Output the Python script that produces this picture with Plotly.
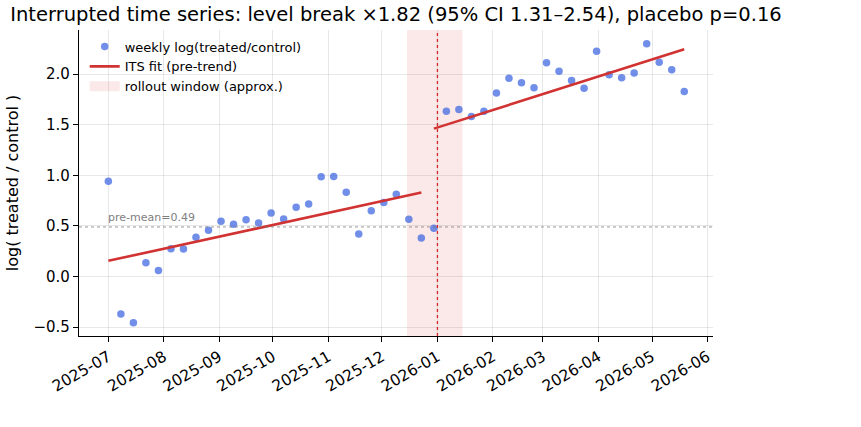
import pandas as pd
import plotly.graph_objects as go

# ---- data ----
start_date = "2025-07-01"
weekly_values = [
    0.943, -0.370, -0.456, 0.136, 0.060, 0.275, 0.272, 0.387, 0.457, 0.546,
    0.516, 0.562, 0.529, 0.629, 0.569, 0.685, 0.718, 0.986, 0.989, 0.834,
    0.420, 0.649, 0.731, 0.814, 0.566, 0.381, 0.476,
    1.634, 1.651, 1.581, 1.634, 1.813, 1.961, 1.915, 1.865, 2.113, 2.028,
    1.938, 1.862, 2.226, 1.994, 1.964, 2.011, 2.302, 2.117, 2.044, 1.829,
]
pre_fit_dates = ["2025-07-01", "2025-12-23"]
pre_fit_values = [0.155, 0.830]
post_fit_dates = ["2025-12-30", "2026-05-19"]
post_fit_values = [1.462, 2.246]
rollout_window = ["2025-12-15", "2026-01-15"]
break_date = "2026-01-01"
pre_mean = 0.49
x_range = ["2025-06-14 14:00", "2026-06-04 02:00"]
y_range = [-0.588, 2.437]
y_ticks = [-0.5, 0.0, 0.5, 1.0, 1.5, 2.0]
title_text = "Interrupted time series: level break ×1.82 (95% CI 1.31–2.54), placebo p=0.16"

dates = pd.date_range(start_date, periods=len(weekly_values), freq="7D")

FONT = "DejaVu Sans"
RED = "#d13232"
SPAN = "rgba(214,39,40,0.1)"

fig = go.Figure()
fig.add_trace(go.Scatter(
    x=dates, y=weekly_values, mode="markers", name="weekly log(treated/control)",
    marker=dict(size=7.5, color="rgba(65,105,225,0.75)", line=dict(width=0)),
    legendrank=1,
))
fig.add_trace(go.Scatter(
    x=pd.to_datetime(pre_fit_dates), y=pre_fit_values, mode="lines",
    name="ITS fit (pre-trend)", line=dict(color=RED, width=2.6), legendrank=2,
))
fig.add_trace(go.Scatter(
    x=pd.to_datetime(post_fit_dates), y=post_fit_values, mode="lines",
    name="ITS fit (post)", line=dict(color=RED, width=2.6), showlegend=False,
))
# legend entry for the rollout window (patch-like wide swatch)
fig.add_trace(go.Scatter(
    x=[None], y=[None], mode="lines", line=dict(color=SPAN, width=10),
    name="rollout window (approx.)", legendrank=3, hoverinfo="skip",
))

# rollout window
fig.add_shape(
    type="rect", xref="x", yref="paper", x0=rollout_window[0], x1=rollout_window[1],
    y0=0, y1=1, fillcolor=SPAN, line=dict(width=0), layer="below",
)
# break line
fig.add_shape(
    type="line", xref="x", yref="paper", x0=break_date, x1=break_date, y0=0, y1=1,
    line=dict(color="#d62728", width=1.3, dash="dot"),
)
# pre-mean line
fig.add_shape(
    type="line", xref="paper", yref="y", x0=0, x1=1, y0=pre_mean, y1=pre_mean,
    line=dict(color="rgba(120,120,120,0.75)", width=1.0, dash="dot"),
)
fig.add_annotation(
    x=dates[0], y=pre_mean, xref="x", yref="y", text=f"pre-mean={pre_mean:.2f}",
    showarrow=False, xanchor="left", yanchor="bottom", yshift=1, xshift=-2,
    font=dict(family=FONT, size=11, color="#808080"),
)

fig.update_layout(
    width=861, height=427,
    margin=dict(l=77, r=148, t=30, b=91),
    paper_bgcolor="white", plot_bgcolor="white",
    font=dict(family=FONT, size=15, color="black"),
    title=dict(text=title_text, x=0.5, xref="paper", xanchor="center",
               y=0.967, yref="container", yanchor="middle",
               font=dict(family=FONT, size=19.5, color="black")),
    legend=dict(x=0.009, y=0.995, xanchor="left", yanchor="top",
                bgcolor="rgba(0,0,0,0)", font=dict(family=FONT, size=13),
                tracegroupgap=2),
    showlegend=True,
)
fig.update_xaxes(
    type="date", range=x_range, dtick="M1", tick0="2025-07-01", tickformat="%Y-%m",
    tickangle=-30, showgrid=True, gridcolor="rgba(0,0,0,0.09)", gridwidth=1,
    showline=True, linecolor="black", linewidth=1.2, ticks="outside", ticklen=5,
    tickcolor="black", zeroline=False, tickfont=dict(family=FONT, size=15.5),
)
fig.update_yaxes(
    range=y_range, tickvals=y_ticks, tickformat=".1f",
    showgrid=True, gridcolor="rgba(0,0,0,0.09)", gridwidth=1,
    showline=True, linecolor="black", linewidth=1.2, ticks="outside", ticklen=5,
    tickcolor="black", zeroline=False, tickfont=dict(family=FONT, size=15),
    title=dict(text="log( treated / control )", font=dict(family=FONT, size=16), standoff=10),
)

fig.write_html("out.html")
